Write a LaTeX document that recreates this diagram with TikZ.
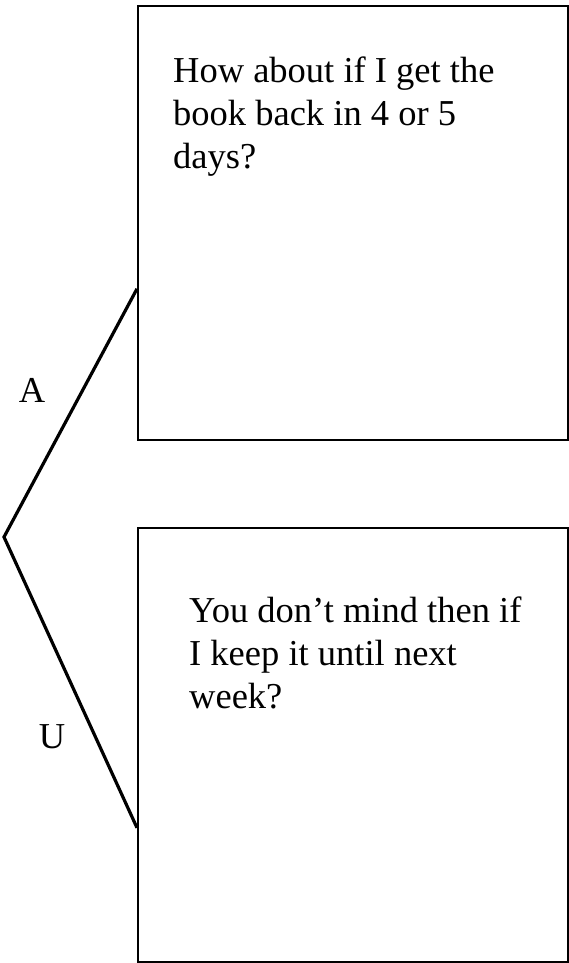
\documentclass[tikz,border=0pt]{standalone}
\usepackage{fontspec}
\setmainfont{Liberation Serif}
\usetikzlibrary{calc}
\begin{document}
\begin{tikzpicture}[x=1pt,y=-1pt,
  panel/.style={draw, line width=1.6pt, minimum width=430pt, minimum height=434pt, anchor=north west, inner sep=0pt},
  speech/.style={anchor=base west, align=left, inner sep=0pt, font=\fontsize{36.5}{43}\selectfont},
  lbl/.style={inner sep=0pt, font=\fontsize{36.5}{43}\selectfont},
  conn/.style={line width=3.2pt, line join=miter}]
\useasboundingbox (0,0) rectangle (569,963);
\fill[white] (0,0) rectangle (569,963);
\node[panel] (top) at (137,5) {};
\node[panel] (bot) at (137,527) {};
\node[speech] (t1) at (173,168) {How about if I get the\\book back in 4 or 5\\days?};
\node[speech] (t2) at (189,708) {You don’t mind then if\\I keep it until next\\week?};
\coordinate (v) at (4,537);
\coordinate (ta) at ([yshift=-66pt]top.west);
\coordinate (ba) at ([yshift=-83pt]bot.west);
\draw[conn] (ta) -- (v) -- (ba);
\node[lbl] (la) at (32,390) {A};
\node[lbl] (lu) at (52,737) {U};
\end{tikzpicture}
\end{document}
